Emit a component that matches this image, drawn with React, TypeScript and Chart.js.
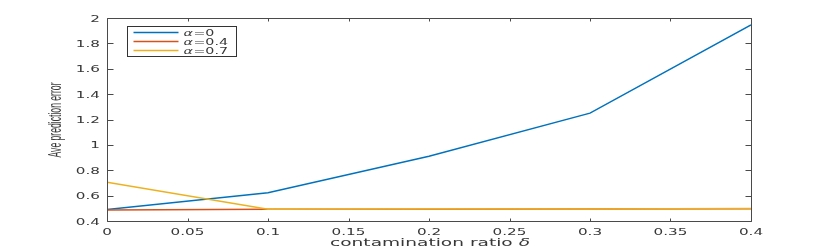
import React, { useEffect, useRef } from 'react';
import { Chart, registerables } from 'chart.js';

Chart.register(...registerables);

const ratios = [0, 0.1, 0.2, 0.3, 0.4];
const alpha0 = [0.49, 0.623, 0.91, 1.25, 1.945];
const alpha04 = [0.487, 0.492, 0.493, 0.494, 0.497];
const alpha07 = [0.705, 0.493, 0.494, 0.494, 0.498];
const seriesLabels = ['α=0', 'α=0.4', 'α=0.7'];
const seriesColors = ['#0072BD', '#D95319', '#EDB120'];
const xTickLabels = ['0', '0.05', '0.1', '0.15', '0.2', '0.25', '0.3', '0.35', '0.4'];
const yTickLabels = ['0.4', '0.6', '0.8', '1', '1.2', '1.4', '1.6', '1.8', '2'];
const xTitle = 'contamination ratio δ';
const yTitle = 'Ave prediction error';

const AXIS_COLOR = '#4a4a4a';
const TEXT_COLOR = '#383838';
const FONT = '"DejaVu Sans", sans-serif';

function stretchedText(
  ctx: CanvasRenderingContext2D,
  text: string,
  x: number,
  y: number,
  font: string,
  sx: number,
  align: 'left' | 'right' | 'center'
) {
  ctx.save();
  ctx.font = font;
  ctx.textBaseline = 'alphabetic';
  ctx.textAlign = align;
  ctx.translate(x, y);
  ctx.scale(sx, 1);
  ctx.fillText(text, 0, 0);
  const w = ctx.measureText(text).width * sx;
  ctx.restore();
  return w;
}

const framePlugin = {
  id: 'matlabFrame',
  afterDraw(chart: any) {
    const ctx: CanvasRenderingContext2D = chart.ctx;
    const a = chart.chartArea;
    const xs = chart.scales.x;
    const ys = chart.scales.y;
    ctx.save();
    ctx.strokeStyle = AXIS_COLOR;
    ctx.lineWidth = 1;
    const L = Math.round(a.left) + 0.5;
    const R = Math.round(a.right) + 0.5;
    const T = Math.round(a.top) + 0.5;
    const B = Math.round(a.bottom) + 0.5;
    ctx.beginPath();
    ctx.rect(L, T, R - L, B - T);
    ctx.stroke();
    ctx.beginPath();
    xs.ticks.forEach((t: any) => {
      const px = Math.round(xs.getPixelForValue(t.value)) + 0.5;
      ctx.moveTo(px, B);
      ctx.lineTo(px, B - 3);
      ctx.moveTo(px, T);
      ctx.lineTo(px, T + 3);
    });
    ys.ticks.forEach((t: any) => {
      const py = Math.round(ys.getPixelForValue(t.value)) + 0.5;
      ctx.moveTo(L, py);
      ctx.lineTo(L + 6, py);
      ctx.moveTo(R, py);
      ctx.lineTo(R - 6, py);
    });
    ctx.stroke();

    ctx.fillStyle = TEXT_COLOR;
    const tickFont = `9.5px ${FONT}`;
    // x tick labels
    xs.ticks.forEach((t: any, i: number) => {
      const px = xs.getPixelForValue(t.value);
      stretchedText(ctx, xTickLabels[i], px, a.bottom + 13.5, tickFont, 1.6, 'center');
    });
    // y tick labels
    ys.ticks.forEach((t: any, i: number) => {
      const py = ys.getPixelForValue(t.value);
      stretchedText(ctx, yTickLabels[i], a.left - 7, py + 3.5, tickFont, 1.6, 'right');
    });
    // x title: upright text with an italic δ at the end
    const titleFont = `10.5px ${FONT}`;
    const main = xTitle.slice(0, -1);
    const sym = xTitle.slice(-1);
    ctx.font = titleFont;
    const mw = ctx.measureText(main).width;
    ctx.font = `italic ${titleFont}`;
    const sw = ctx.measureText(sym).width;
    const sx = 200 / (mw + sw);
    const startX = (a.left + a.right) / 2 + 1 - 100;
    stretchedText(ctx, main, startX, a.bottom + 25, titleFont, sx, 'left');
    stretchedText(ctx, sym, startX + mw * sx, a.bottom + 25, `italic ${titleFont}`, sx, 'left');

    // y-axis title (condensed, rotated)
    ctx.font = '18px "Liberation Sans", Arial, sans-serif';
    ctx.textAlign = 'center';
    ctx.textBaseline = 'alphabetic';
    const w = ctx.measureText(yTitle).width;
    ctx.save();
    ctx.translate(61, (a.top + a.bottom) / 2 + 0.5);
    ctx.rotate(-Math.PI / 2);
    ctx.scale(75 / w, 1);
    ctx.fillText(yTitle, 0, 0);
    ctx.restore();

    // legend box inside the plot area
    const bx = a.left + 20.5;
    const by = a.top + 8.5;
    const bw = 109;
    const bh = 30;
    ctx.fillStyle = '#ffffff';
    ctx.fillRect(bx, by, bw, bh);
    ctx.strokeStyle = '#333333';
    ctx.lineWidth = 1;
    ctx.strokeRect(bx, by, bw, bh);
    chart.data.datasets.forEach((ds: any, i: number) => {
      const y = by + 6 + i * 9;
      ctx.strokeStyle = ds.borderColor;
      ctx.lineWidth = 1.5;
      ctx.beginPath();
      ctx.moveTo(bx + 6, y);
      ctx.lineTo(bx + 51, y);
      ctx.stroke();
      const label: string = ds.label;
      ctx.fillStyle = TEXT_COLOR;
      const tx = bx + 56;
      const aw = stretchedText(ctx, label.charAt(0), tx, y + 3.5, `italic 9.5px ${FONT}`, 1.5, 'left');
      stretchedText(ctx, label.slice(1), tx + aw + 0.5, y + 3.5, `9.5px ${FONT}`, 1.5, 'left');
    });
    ctx.restore();
  },
};

export default function App() {
  const ref = useRef<HTMLCanvasElement | null>(null);
  useEffect(() => {
    if (!ref.current) return;
    const mk = (vals: number[]) => ratios.map((r, i) => ({ x: r, y: vals[i] }));
    const chart = new Chart(ref.current, {
      type: 'line',
      data: {
        datasets: [
          { label: seriesLabels[0], data: mk(alpha0), borderColor: seriesColors[0], backgroundColor: seriesColors[0], order: 3 },
          { label: seriesLabels[1], data: mk(alpha04), borderColor: seriesColors[1], backgroundColor: seriesColors[1], order: 2 },
          { label: seriesLabels[2], data: mk(alpha07), borderColor: seriesColors[2], backgroundColor: seriesColors[2], order: 1 },
        ],
      },
      options: {
        responsive: false,
        animation: false,
        layout: { padding: { top: 18, right: 79, left: 0, bottom: 0 } },
        elements: {
          line: { borderWidth: 1.5, tension: 0 },
          point: { radius: 0, hoverRadius: 0 },
        },
        plugins: {
          legend: { display: false },
          tooltip: { enabled: false },
        },
        scales: {
          x: {
            type: 'linear',
            min: 0,
            max: 0.4,
            grid: { display: false },
            border: { display: false },
            ticks: {
              display: false,
              stepSize: 0.05,
              autoSkip: false,
              callback: (_v: any, i: number) => xTickLabels[i],
            },
            title: { display: false, text: xTitle },
            afterFit: (s: any) => { s.height = 28; },
          },
          y: {
            type: 'linear',
            min: 0.4,
            max: 2,
            grid: { display: false },
            border: { display: false },
            ticks: {
              display: false,
              stepSize: 0.2,
              autoSkip: false,
              callback: (_v: any, i: number) => yTickLabels[i],
            },
            title: { display: false, text: yTitle },
            afterFit: (s: any) => { s.width = 107; },
          },
        },
      },
      plugins: [framePlugin],
    } as any);
    return () => chart.destroy();
  }, []);
  return (
    <div style={{ position: 'fixed', left: 0, top: 0, width: 830, height: 249, background: '#fff' }}>
      <canvas ref={ref} width={830} height={249} style={{ display: 'block' }} />
    </div>
  );
}
